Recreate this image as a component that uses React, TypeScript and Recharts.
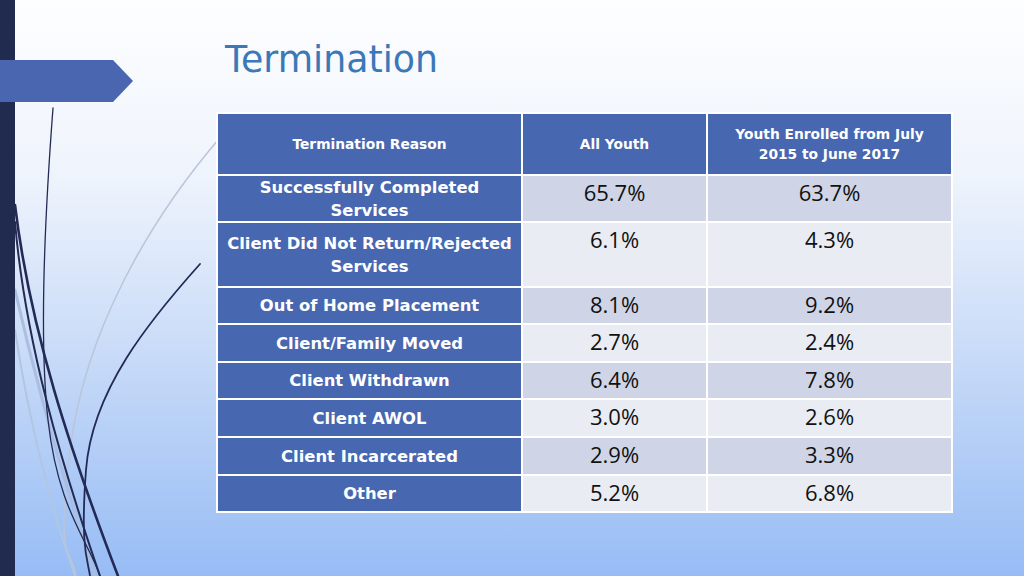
import React from 'react';
import { ComposedChart, XAxis, YAxis, ReferenceArea } from 'recharts';

// table content
const headers = ['Termination Reason', 'All Youth', 'Youth Enrolled from July\n2015 to June 2017'];
const reasons = [
  'Successfully Completed\nServices',
  'Client Did Not Return/Rejected\nServices',
  'Out of Home Placement',
  'Client/Family Moved',
  'Client Withdrawn',
  'Client AWOL',
  'Client Incarcerated',
  'Other',
];
const allYouth = [65.7, 6.1, 8.1, 2.7, 6.4, 3.0, 2.9, 5.2];
const enrolled = [63.7, 4.3, 9.2, 2.4, 7.8, 2.6, 3.3, 6.8];

// grid layout (table units)
const colEdges = [0, 305, 490, 735];
const rowEdges = [0, 62, 109, 174, 211, 249, 286, 324, 362, 399];

const BLUE = '#4767b0';
const ROW_A = '#cfd5e6';
const ROW_B = '#e9ecf3';

const data = reasons.map((r, i) => ({ reason: r, all: allYouth[i], enrolled: enrolled[i] }));

function CellText(props: any) {
  const { viewBox, text, fill, fontSize, bold, lineGap, top, family } = props;
  const { x, y, width, height } = viewBox || {};
  const lines = String(text).split('\n');
  const cx = x + width / 2;
  let first: number;
  if (top != null) {
    first = y + top;
  } else {
    const mid = y + height / 2;
    first = mid - ((lines.length - 1) * lineGap) / 2 + fontSize * 0.36;
  }
  return (
    <text
      x={cx}
      y={first}
      textAnchor="middle"
      fill={fill}
      fontSize={fontSize}
      fontWeight={bold ? 700 : 400}
      fontFamily={family}
    >
      {lines.map((l, i) => (
        <tspan key={i} x={cx} y={first + i * lineGap}>
          {l}
        </tspan>
      ))}
    </text>
  );
}

const LABEL_FONT = '"DejaVu Sans", sans-serif';
const VALUE_FONT = '"Open Sans", "Noto Sans", sans-serif';

function Table() {
  const cells: React.ReactNode[] = [];
  headers.forEach((h, c) => {
    cells.push(
      <ReferenceArea
        key={'h' + c}
        x1={colEdges[c]}
        x2={colEdges[c + 1]}
        y1={rowEdges[0]}
        y2={rowEdges[1]}
        fill={BLUE}
        fillOpacity={1}
        stroke="#ffffff"
        strokeWidth={2}
        label={(p: any) => (
          <CellText {...p} text={h} fill="#ffffff" fontSize={13.8} bold lineGap={19.5} family={LABEL_FONT} />
        )}
      />
    );
  });
  data.forEach((d, r) => {
    const y1 = rowEdges[r + 1];
    const y2 = rowEdges[r + 2];
    const bg = r % 2 === 0 ? ROW_A : ROW_B;
    cells.push(
      <ReferenceArea
        key={'r' + r}
        x1={colEdges[0]}
        x2={colEdges[1]}
        y1={y1}
        y2={y2}
        fill={BLUE}
        fillOpacity={1}
        stroke="#ffffff"
        strokeWidth={2}
        label={(p: any) => (
          <CellText {...p} text={d.reason} fill="#ffffff" fontSize={16.4} bold lineGap={22.5} family={LABEL_FONT} />
        )}
      />
    );
    [d.all, d.enrolled].forEach((v, k) => {
      cells.push(
        <ReferenceArea
          key={'v' + r + '-' + k}
          x1={colEdges[k + 1]}
          x2={colEdges[k + 2]}
          y1={y1}
          y2={y2}
          fill={bg}
          fillOpacity={1}
          stroke="#ffffff"
          strokeWidth={2}
          label={(p: any) => (
            <CellText {...p} text={v.toFixed(1) + '%'} fill="#111111" fontSize={22} top={25.5} lineGap={0} family={VALUE_FONT} />
          )}
        />
      );
    });
  });

  return (
    <ComposedChart
      width={739}
      height={403}
      data={data}
      margin={{ top: 0, right: 0, bottom: 0, left: 0 }}
    >
      <XAxis type="number" dataKey="all" domain={[-2, 737]} hide allowDataOverflow />
      <YAxis type="number" domain={[-2, 401]} reversed hide allowDataOverflow />
      {cells}
    </ComposedChart>
  );
}

export default function App() {
  return (
    <div style={{ position: 'absolute', left: 0, top: 0, width: 1024, height: 576, overflow: 'hidden' }}>
      <svg width={1024} height={576} style={{ position: 'absolute', left: 0, top: 0 }}>
        <defs>
          <linearGradient id="bg" x1="0" y1="0" x2="0" y2="1">
            <stop offset="0" stopColor="#fdfeff" />
            <stop offset="0.3" stopColor="#eff4fc" />
            <stop offset="0.6" stopColor="#cadcf8" />
            <stop offset="1" stopColor="#97bcf5" />
          </linearGradient>
        </defs>
        <rect x={0} y={0} width={1024} height={576} fill="url(#bg)" />
        <g fill="none" strokeLinecap="round">
          <path d="M218 140 C150 220, 85 330, 70 450 S 72 545, 76 576" stroke="#b9c5d9" strokeWidth={1.5} />
          <path d="M15 290 C40 400, 70 500, 95 576" stroke="#a9bee0" strokeWidth={3} />
          <path d="M15 330 C30 430, 55 520, 75 576" stroke="#b2c6e2" strokeWidth={2} />
          <path d="M53 108 C46 200, 38 330, 48 420 S 88 540, 100 576" stroke="#232a55" strokeWidth={1.3} />
          <path d="M15 205 C30 330, 70 450, 118 576" stroke="#232a55" strokeWidth={2.6} />
          <path d="M15 222 C25 340, 60 460, 100 576" stroke="#232a55" strokeWidth={2} />
          <path d="M200 264 C150 320, 92 390, 86 470 S 88 560, 90 576" stroke="#232a55" strokeWidth={1.8} />
        </g>
        <rect x={0} y={0} width={15} height={576} fill="#212a4f" />
        <path d="M0 60 H113 L133 81 L113 102 H0 Z" fill="#4a66b0" />
        <text
          x={225}
          y={72}
          fontSize={38}
          fill="#3a78b8"
          fontFamily='"DejaVu Sans", sans-serif'
          textLength={213}
          lengthAdjust="spacingAndGlyphs"
        >
          Termination
        </text>
      </svg>
      <div style={{ position: 'absolute', left: 215, top: 111 }}>
        <Table />
      </div>
    </div>
  );
}
